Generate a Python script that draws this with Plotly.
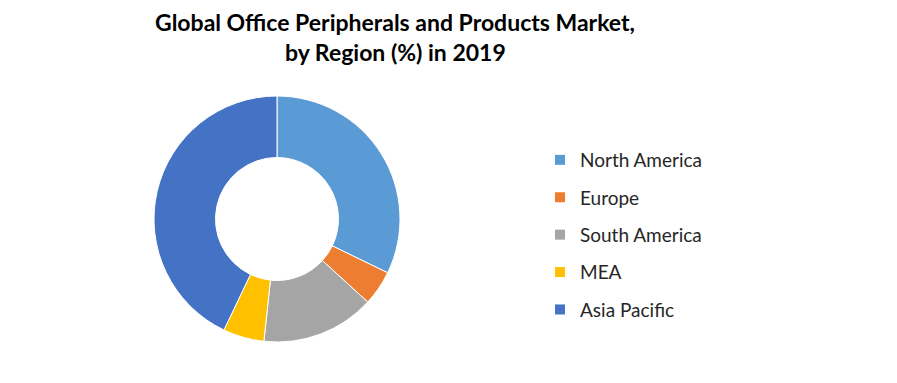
import plotly.graph_objects as go

regions = ["North America", "Europe", "South America", "MEA", "Asia Pacific"]
shares = [32.2, 4.6, 14.9, 5.4, 42.9]
colors = ["#5B9BD5", "#ED7D31", "#A5A5A5", "#FFC000", "#4472C4"]

title_lines = ["Global Office Peripherals and Products Market,", "by Region (%) in 2019"]

W, H = 897, 383
cx, cy, r = 277, 219, 123

fig = go.Figure()
fig.add_trace(go.Pie(
    labels=regions, values=shares, sort=False, direction="clockwise", rotation=0,
    hole=0.5, textinfo="none", hoverinfo="label+percent",
    marker=dict(colors=colors, line=dict(color="white", width=1)),
    showlegend=False,
    domain=dict(x=[(cx - r) / W, (cx + r) / W], y=[1 - (cy + r) / H, 1 - (cy - r) / H]),
))
for i, (name, col) in enumerate(zip(regions, colors)):
    fig.add_trace(go.Scatter(
        x=[None], y=[None], mode="markers", name=name, legendgroup=f"g{i}",
        marker=dict(symbol="square", size=10, color=col, line=dict(width=0)),
        hoverinfo="skip",
    ))

for j, line in enumerate(title_lines):
    fig.add_annotation(
        text="<b>" + line + "</b>", xref="paper", yref="paper",
        x=395 / W, y=1 - (22 + 30 * j) / H, xanchor="center", yanchor="middle",
        showarrow=False, font=dict(family="Lato", size=23, color="black"),
    )

fig.update_layout(
    width=W, height=H,
    margin=dict(l=0, r=0, t=0, b=0),
    paper_bgcolor="white", plot_bgcolor="white",
    xaxis=dict(visible=False), yaxis=dict(visible=False),
    legend=dict(x=540 / W, y=1 - 141 / H, xanchor="left", yanchor="top",
                font=dict(family="Lato", size=19, color="#262626"),
                tracegroupgap=9.7, traceorder="grouped", bgcolor="rgba(0,0,0,0)"),
)
fig.write_html("out.html")
